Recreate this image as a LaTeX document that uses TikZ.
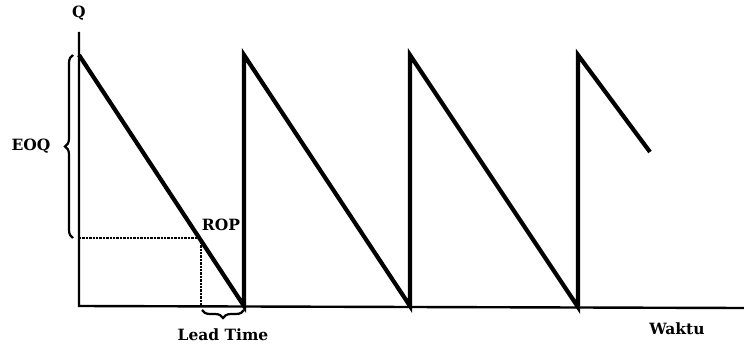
\documentclass[tikz,border=0pt]{standalone}
\usepackage{fontspec}
\setmainfont{DejaVu Serif}
\usetikzlibrary{decorations.pathreplacing}
\begin{document}
\begin{tikzpicture}[x=1pt,y=-1pt,
  lbl/.style={font=\fontsize{15.5}{18}\selectfont\bfseries, inner sep=1pt},
  axis/.style={line width=2.4pt},
  saw/.style={line width=4.2pt, line join=miter},
  guide/.style={line width=2.4pt, densely dotted},
  brc/.style={line width=2.2pt, decorate, decoration={brace, amplitude=8pt}}]
\useasboundingbox (0,0) rectangle (744,345);
% axes
\coordinate (O) at (79,306);
\coordinate (Ytop) at (79,32);
\coordinate (Xend) at (744,308);
\draw[axis] (Ytop) -- (O) -- (Xend);
% sawtooth
\coordinate (P1) at (79,55);
\coordinate (B1) at (244,306);
\coordinate (P2) at (244,55);
\coordinate (B2) at (410,306);
\coordinate (P3) at (410,55);
\coordinate (B3) at (578,307);
\coordinate (P4) at (578,55);
\coordinate (E) at (650,152);
\draw[saw] (P1) -- (B1) -- (P2) -- (B2) -- (P3) -- (B3) -- (P4) -- (E);
% ROP guides
\coordinate (R) at (201,238);
\coordinate (RL) at (79,238);
\coordinate (RB) at (201,306);
\draw[guide] (RL) -- (R) -- (RB);
% braces
\coordinate (EQb) at (73,238);
\coordinate (EQt) at (73,55);
\draw[brc] (EQb) -- (EQt);
\coordinate (LTr) at (244,310);
\coordinate (LTl) at (202,310);
\draw[brc] (LTr) -- (LTl);
% labels
\node[lbl] (q) at (79,13) {Q};
\node[lbl] (eoq) at (31,146) {EOQ};
\node[lbl] (rop) at (221,225) {ROP};
\node[lbl] (lt) at (223,335) {Lead Time};
\node[lbl] (w) at (677,329) {Waktu};
\end{tikzpicture}
\end{document}
